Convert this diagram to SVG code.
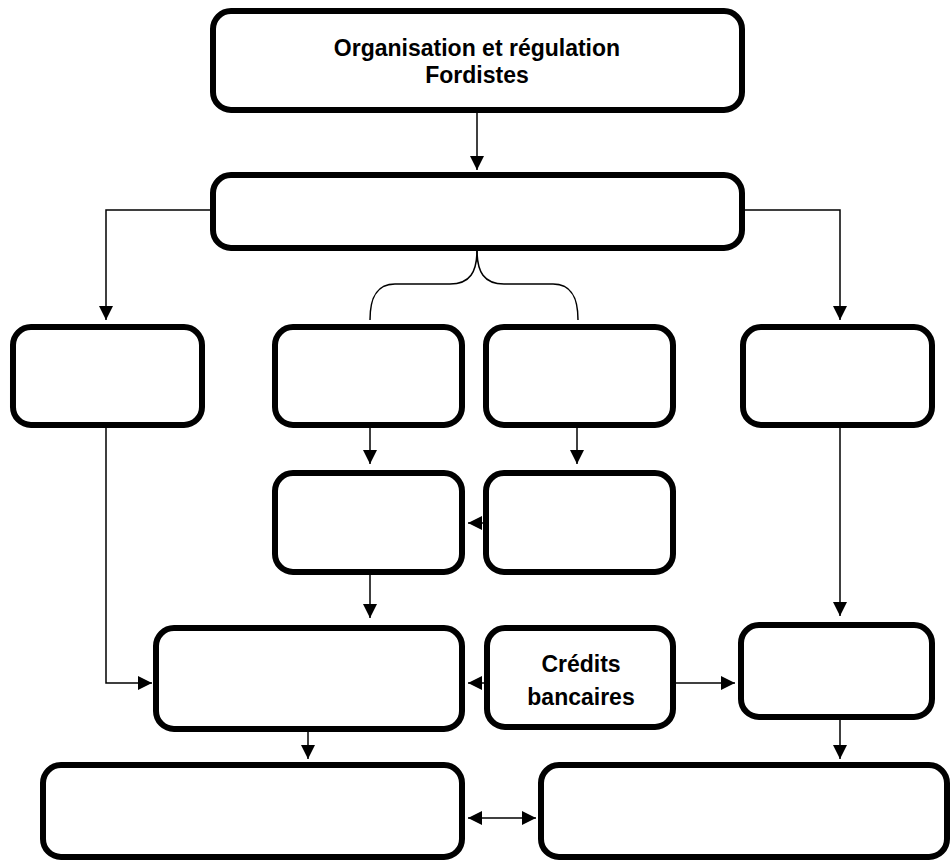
<svg xmlns="http://www.w3.org/2000/svg" width="952" height="865" viewBox="0 0 952 865">
<style>
.box{fill:#fff;stroke:#000;stroke-width:6}
.ln{fill:none;stroke:#000;stroke-width:1.5}
.t{font-family:"Liberation Sans",Arial,sans-serif;font-weight:bold;font-size:23px;text-anchor:middle}
</style>
<defs>
<marker id="ah" viewBox="0 0 10 10" refX="10" refY="5" markerWidth="14" markerHeight="14" markerUnits="userSpaceOnUse" orient="auto-start-reverse">
<path d="M0,0 L10,5 L0,10 Z" fill="#000"/>
</marker>
</defs>
<g id="connectors">
<path class="ln" d="M477,112 V170" marker-end="url(#ah)"/>
<path class="ln" d="M210,210 H106 V320" marker-end="url(#ah)"/>
<path class="ln" d="M745,210 H840 V320" marker-end="url(#ah)"/>
<path class="ln" d="M477,250 C477,272 470,284 450,284 H395 C375,284 370,300 370,320"/>
<path class="ln" d="M477,250 C477,272 484,284 504,284 H553 C573,284 578,300 578,320"/>
<path class="ln" d="M370,428 V464" marker-end="url(#ah)"/>
<path class="ln" d="M577,428 V464" marker-end="url(#ah)"/>
<path class="ln" d="M483,523 H468" marker-end="url(#ah)"/>
<path class="ln" d="M370,575 V618" marker-end="url(#ah)"/>
<path class="ln" d="M106,428 V683 H152" marker-end="url(#ah)"/>
<path class="ln" d="M484,683 H468" marker-end="url(#ah)"/>
<path class="ln" d="M676,683 H735" marker-end="url(#ah)"/>
<path class="ln" d="M840,428 V616" marker-end="url(#ah)"/>
<path class="ln" d="M308,732 V759" marker-end="url(#ah)"/>
<path class="ln" d="M840,720 V759" marker-end="url(#ah)"/>
<path class="ln" d="M468,818 H536" marker-start="url(#ah)" marker-end="url(#ah)"/>
</g>
<g id="n-top"><rect class="box" x="213" y="11" width="529" height="99" rx="18"/>
<text class="t" x="477" y="56">Organisation et régulation</text>
<text class="t" x="477" y="83">Fordistes</text></g>
<g id="n-2"><rect class="box" x="213" y="175" width="529" height="73" rx="18"/></g>
<g id="n-a"><rect class="box" x="13" y="327" width="189" height="98" rx="18"/></g>
<g id="n-b"><rect class="box" x="275" y="327" width="187" height="98" rx="18"/></g>
<g id="n-c"><rect class="box" x="486" y="327" width="187" height="98" rx="18"/></g>
<g id="n-d"><rect class="box" x="743" y="327" width="189" height="98" rx="18"/></g>
<g id="n-e"><rect class="box" x="275" y="473" width="187" height="99" rx="18"/></g>
<g id="n-f"><rect class="box" x="486" y="473" width="187" height="99" rx="18"/></g>
<g id="n-g"><rect class="box" x="156" y="628" width="306" height="101" rx="18"/></g>
<g id="n-h"><rect class="box" x="487" y="628" width="186" height="99" rx="18"/>
<text class="t" x="581" y="672">Crédits</text>
<text class="t" x="581" y="705">bancaires</text></g>
<g id="n-i"><rect class="box" x="741" y="625" width="191" height="92" rx="18"/></g>
<g id="n-j"><rect class="box" x="43" y="765" width="419" height="92" rx="18"/></g>
<g id="n-k"><rect class="box" x="541" y="765" width="406" height="92" rx="18"/></g>
</svg>
